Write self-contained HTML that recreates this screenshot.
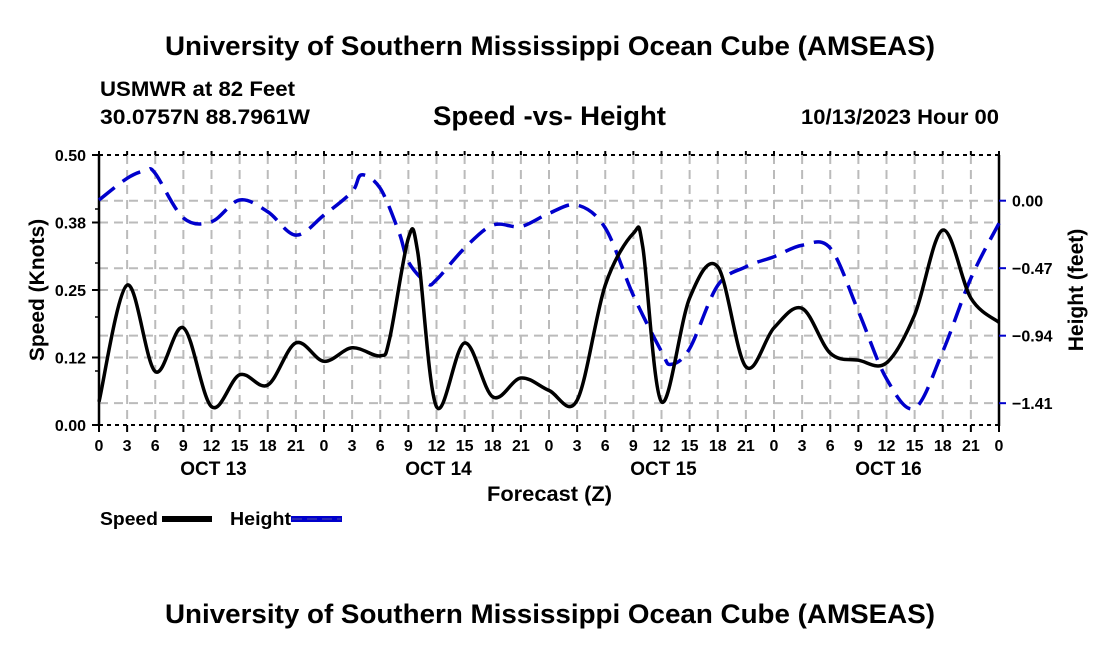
<!DOCTYPE html>
<html><head><meta charset="utf-8"><style>
body{margin:0;background:#fff;}
svg{display:block;font-family:"Liberation Sans",Arial,sans-serif;font-weight:bold;}
</style></head><body>
<svg id="chart" width="1100" height="650" viewBox="0 0 1100 650">
<rect width="1100" height="650" fill="#fff"/>
<text x="165" y="55" font-size="27" textLength="770" lengthAdjust="spacingAndGlyphs">University of Southern Mississippi Ocean Cube (AMSEAS)</text>
<text x="100" y="96" font-size="21" textLength="195" lengthAdjust="spacingAndGlyphs">USMWR at 82 Feet</text>
<text x="100" y="124" font-size="21" textLength="210" lengthAdjust="spacingAndGlyphs">30.0757N  88.7961W</text>
<text x="433" y="125" font-size="27" textLength="233" lengthAdjust="spacingAndGlyphs">Speed -vs- Height</text>
<text x="801" y="124" font-size="21" textLength="198" lengthAdjust="spacingAndGlyphs">10/13/2023 Hour 00</text>
<g id="grid"></g>
<g id="axes"></g>
<g id="series"></g>
<text x="487" y="501" font-size="21" textLength="125" lengthAdjust="spacingAndGlyphs">Forecast (Z)</text>
<text transform="translate(44,290) rotate(-90)" font-size="21" text-anchor="middle">Speed (Knots)</text>
<text transform="translate(1083,290) rotate(-90)" font-size="21" text-anchor="middle">Height (feet)</text>
<g>
<text x="100" y="525" font-size="18" textLength="58" lengthAdjust="spacingAndGlyphs">Speed</text>
<rect x="162" y="516" width="50" height="6" fill="#000"/>
</g>
<g>
<text x="230" y="525" font-size="18" textLength="61" lengthAdjust="spacingAndGlyphs">Height</text>
<rect x="291" y="516" width="51" height="6" fill="#00c"/>
<line x1="292" y1="519" x2="341" y2="519" stroke="#5050a0" stroke-width="1" stroke-dasharray="10,5"/>
</g>
<text x="165" y="623" font-size="27" textLength="770" lengthAdjust="spacingAndGlyphs">University of Southern Mississippi Ocean Cube (AMSEAS)</text>
</svg>
<script>
const speedHours=[0,3,6,9,12,15,18,21,24,27,30,31,33,34,36,39,42,45,48,51,54,57,58,60,63,66,69,72,75,78,81,84,87,90,93,96];
const speedValues=[0.043,0.259,0.099,0.18,0.034,0.093,0.074,0.152,0.118,0.143,0.128,0.16,0.346,0.32,0.034,0.152,0.052,0.087,0.064,0.046,0.259,0.355,0.33,0.043,0.235,0.293,0.108,0.18,0.216,0.133,0.12,0.115,0.204,0.361,0.235,0.19];
const heightHours=[0,3,5,6,9,12,15,18,21,24,27,28,30,32,33,35,36,39,42,45,48,51,54,57,60,61,63,66,69,72,75,78,81,84,87,90,93,96];
const heightValues=[0.005,0.156,0.21,0.19,-0.12,-0.146,0.005,-0.077,-0.24,-0.1,0.063,0.18,0.086,-0.22,-0.425,-0.575,-0.55,-0.33,-0.17,-0.18,-0.088,-0.03,-0.19,-0.66,-1.05,-1.14,-1.03,-0.59,-0.46,-0.39,-0.31,-0.33,-0.77,-1.24,-1.445,-1.05,-0.54,-0.157];
const leftTicks=[0,0.125,0.25,0.375,0.5];
const leftTickLabels=["0.00","0.12","0.25","0.38","0.50"];
const rightTicks=[0,-0.47,-0.94,-1.41];
const rightTickLabels=["0.00","\u22120.47","\u22120.94","\u22121.41"];
const xTickLabels=["0","3","6","9","12","15","18","21","0","3","6","9","12","15","18","21","0","3","6","9","12","15","18","21","0","3","6","9","12","15","18","21","0"];
const dayLabels=["OCT 13","OCT 14","OCT 15","OCT 16"];

const X0=99,X1=999,Y0=155,Y1=425;
const x=h=>X0+h*(X1-X0)/96;
const yL=v=>Y1-v*(Y1-Y0)/0.5;
const yR=v=>200.7-v*143.6;
const NS="http://www.w3.org/2000/svg";
function mk(tag,attrs,parent){const e=document.createElementNS(NS,tag);for(const k in attrs)e.setAttribute(k,attrs[k]);parent.appendChild(e);return e;}
const grid=document.getElementById('grid'),axes=document.getElementById('axes'),series=document.getElementById('series');
const gs={stroke:"#bbb","stroke-width":2,"stroke-dasharray":"9,6"};
for(let i=1;i<32;i++){const l=mk('line',Object.assign({x1:x(i*3),x2:x(i*3),y1:Y0,y2:Y1},gs),grid);

}
leftTicks.slice(1,4).forEach(v=>{const l=mk('line',Object.assign({x1:X0,x2:X1,y1:yL(v),y2:yL(v)},gs),grid);

});
rightTicks.forEach(v=>{const l=mk('line',Object.assign({x1:X0,x2:X1,y1:yR(v),y2:yR(v)},gs),grid);

});
mk('line',{x1:X0,x2:X1,y1:Y0,y2:Y0,stroke:"#000","stroke-width":2,"stroke-dasharray":"4,4"},axes);
mk('line',{x1:X0,x2:X1,y1:Y1,y2:Y1,stroke:"#000","stroke-width":2,"stroke-dasharray":"4,4"},axes);
mk('line',{x1:X0,x2:X0,y1:Y0,y2:Y1+1,stroke:"#000","stroke-width":2.5},axes);
mk('line',{x1:X1,x2:X1,y1:Y0,y2:Y1+1,stroke:"#000","stroke-width":2.5},axes);
leftTicks.forEach((v,i)=>{mk('line',{x1:X0-7,x2:X0,y1:yL(v),y2:yL(v),stroke:"#000","stroke-width":2},axes);
const t=mk('text',{x:86,y:yL(v)+6,"font-size":16,"text-anchor":"end"},axes);t.textContent=leftTickLabels[i];

});
for(let v=0.1;v<0.5;v+=0.1){mk('line',{x1:X0-4,x2:X0,y1:yL(v),y2:yL(v),stroke:"#000","stroke-width":1.5},axes);}
rightTicks.forEach((v,i)=>{mk('line',{x1:X1,x2:X1+7,y1:yR(v),y2:yR(v),stroke:"#00c","stroke-width":2},axes);
const t=mk('text',{x:1012,y:yR(v)+6,"font-size":16},axes);t.textContent=rightTickLabels[i];

});
xTickLabels.forEach((s,i)=>{mk('line',{x1:x(i*3),x2:x(i*3),y1:Y1,y2:Y1+7,stroke:"#000","stroke-width":2},axes);
mk('line',{x1:x(i*3),x2:x(i*3),y1:Y0-4,y2:Y0,stroke:"#000","stroke-width":2},axes);
const t=mk('text',{x:x(i*3),y:451,"font-size":16,"text-anchor":"middle"},axes);t.textContent=s;

});
dayLabels.forEach((s,i)=>{const t=mk('text',{x:x(i*24+12)+2,y:475,"font-size":19,"text-anchor":"middle"},axes);t.textContent=s;

});
function smooth(pts){let d=`M${pts[0][0]},${pts[0][1]}`;
for(let i=0;i<pts.length-1;i++){const p0=pts[Math.max(0,i-1)],p1=pts[i],p2=pts[i+1],p3=pts[Math.min(pts.length-1,i+2)];
const k=6;d+=` C${p1[0]+(p2[0]-p0[0])/k},${p1[1]+(p2[1]-p0[1])/k} ${p2[0]-(p3[0]-p1[0])/k},${p2[1]-(p3[1]-p1[1])/k} ${p2[0]},${p2[1]}`;}
return d;}
const hp=mk('path',{d:smooth(heightHours.map((h,i)=>[x(h),yR(heightValues[i])])),fill:"none",stroke:"#00c","stroke-width":3.5,"stroke-dasharray":"20,10"},series);


const sp=mk('path',{d:smooth(speedHours.map((h,i)=>[x(h),yL(speedValues[i])])),fill:"none",stroke:"#000","stroke-width":3.5},series);


</script>
</body></html>
